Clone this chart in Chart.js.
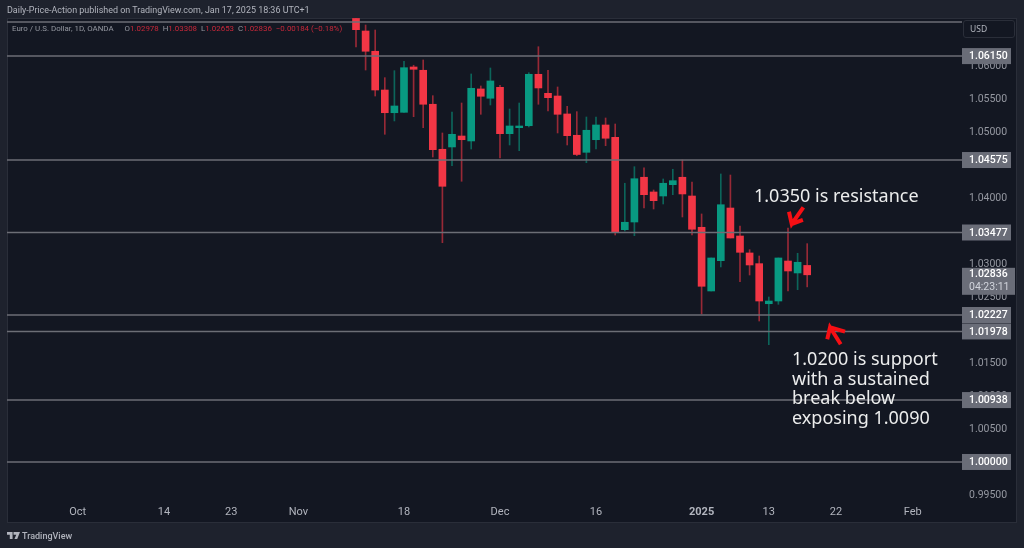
<!DOCTYPE html>
<html>
<head>
<meta charset="utf-8">
<title>EUR/USD</title>
<script src="https://cdn.jsdelivr.net/npm/chart.js@4/dist/chart.umd.min.js"></script>
<style>
  html, body { margin: 0; padding: 0; background: #1e222d; overflow: hidden; }
  body { width: 1024px; height: 548px; position: relative; font-family: "Noto Sans", sans-serif; }
  #frame { position: absolute; left: 7px; top: 18px; width: 1010px; height: 505px; box-sizing: border-box;
           background: #131722; border: 1px solid #2a2e39; }
  canvas { position: absolute; left: 0; top: 0; }
  .txt { position: absolute; white-space: nowrap; }
  #published { left: 7px; top: 3px; font-family: Roboto; font-size: 8.95px; line-height: 14px; color: #b2b5be; }
  #legend { left: 12px; top: 22px; font-family: Roboto; font-size: 7.9px; line-height: 13px; color: #9598a1; }
  #legend b { font-weight: normal; color: #c9283a; }
  #legend span { margin-left: 4px; }
  #legend span:first-child { margin-left: 11px; }
  #usd { left: 963px; top: 20px; width: 52px; height: 18px; box-sizing: border-box; border: 1px solid #2a2e39;
         border-radius: 3px; font-size: 8.5px; line-height: 16px; color: #b2b5be; padding-left: 6px; }
  .note { color: #eceded; font-size: 18px; line-height: 19.5px; }
  #brand { left: 22px; top: 529px; font-family: Roboto; font-size: 9px; line-height: 14px; color: #b2b5be; font-weight: 500; }
  #logo { position: absolute; left: 7px; top: 532px; }
</style>
</head>
<body>
<div id="frame"></div>
<canvas id="chart" width="1024" height="548"></canvas>
<div class="txt" id="published">Daily-Price-Action published on TradingView.com, Jan 17, 2025 18:36 UTC+1</div>
<div class="txt" id="legend">Euro / U.S. Dollar, 1D, OANDA<span>O<b>1.02978</b></span><span>H<b>1.03308</b></span><span>L<b>1.02653</b></span><span>C<b>1.02836</b></span><span><b>−0.00184 (−0.18%)</b></span></div>
<div class="txt" id="usd">USD</div>
<div class="txt note" style="left:754px;top:186px">1.0350 is resistance</div>
<div class="txt note" style="left:792px;top:349px">1.0200 is support<br>with a sustained<br>break below<br>exposing 1.0090</div>
<svg id="logo" width="13" height="7" viewBox="0 0 14 8" preserveAspectRatio="none"><path fill="#b2b5be" d="M0 0h6v8H3V3H0zM7 0h7l-3 8H8l2-5H7z"/></svg>
<div class="txt" id="brand">TradingView</div>

<script>
// daily candles, one per trading day starting Nov 11 2024
const opens = [1.0672,1.0653,1.06223,1.05636,1.05292,1.05298,1.05985,1.05935,1.0542,1.04738,1.04773,1.04939,1.04864,1.05652,1.05511,1.05677,1.04974,1.05065,1.05095,1.05874,1.05586,1.05545,1.05273,1.0495,1.04692,1.04883,1.05106,1.0492,1.0352,1.03636,1.04314,1.04091,1.0403,1.04202,1.04314,1.0403,1.03556,1.02591,1.0305,1.03848,1.03424,1.03167,1.03005,1.02398,1.02439,1.03045,1.02864,1.02978];
const highs = [1.0674,1.06621,1.06545,1.05823,1.05929,1.06071,1.06011,1.06091,1.0555,1.04985,1.05303,1.05439,1.05879,1.05697,1.0597,1.05708,1.05348,1.05439,1.05898,1.06292,1.05935,1.05682,1.05389,1.05308,1.05227,1.05227,1.05212,1.05121,1.04223,1.04474,1.04455,1.04121,1.04288,1.04435,1.04576,1.04242,1.03758,1.03091,1.04364,1.04348,1.03576,1.03217,1.03121,1.025,1.03091,1.03545,1.03162,1.03308];
const lows = [1.0629,1.05939,1.05545,1.04965,1.05167,1.05298,1.05232,1.05065,1.04621,1.03323,1.04489,1.04253,1.04742,1.05268,1.05409,1.04606,1.04803,1.04717,1.05076,1.0542,1.05318,1.04985,1.04803,1.04641,1.04535,1.04742,1.04792,1.03439,1.035,1.03429,1.03848,1.03833,1.03909,1.0405,1.03712,1.03439,1.02242,1.02591,1.02955,1.03394,1.02732,1.02833,1.02136,1.01777,1.02389,1.02591,1.02611,1.02653];
const closes = [1.0655,1.06223,1.05636,1.05292,1.05394,1.05974,1.0595,1.0542,1.04732,1.04177,1.04965,1.04883,1.05662,1.05541,1.05773,1.04974,1.05091,1.05091,1.05874,1.05667,1.0552,1.05268,1.04944,1.04659,1.05026,1.05106,1.04905,1.03489,1.03632,1.04292,1.0405,1.03959,1.04223,1.04262,1.04061,1.03526,1.02662,1.03091,1.03898,1.03394,1.03177,1.02985,1.02439,1.02439,1.03091,1.02894,1.03026,1.02836];

// horizontal levels
const topLine = 1.06667;
const levels = [1.0615,1.04575,1.03477,1.02227,1.01978,1.00938,1.0];
const lastPrice = 1.02836;
const countdown = "04:23:11";

// price axis
const priceTicks = [0.995,1.0,1.005,1.01,1.015,1.02,1.025,1.03,1.035,1.04,1.045,1.05,1.055,1.06];

// time axis, positions are bar numbers
const timeTicks = [-29,-20,-13,-6,5,15,25,36,43,50,58];
const timeLabels = ["Oct","14","23","Nov","18","Dec","16","2025","13","22","Feb"];

// hand drawn arrows, [bar number, price]
const arrowUpper = [[46.6,1.03859],[45.39,1.03606],[45.1,1.03792],[45.39,1.03606],[46.55,1.03667]];
const arrowLower = [[50.49,1.01783],[49.38,1.02041],[49.09,1.01859],[49.38,1.02041],[50.94,1.01974]];

const xMin = -36.354, xMax = 63.125;
const yMin = 0.99424, yMax = 1.06727;

const RED = "#f23645", GREEN = "#089981";
const isDown = opens.map((o, i) => closes[i] < o);

function hline(price) {
    return {
        type: "line",
        data: [{x: xMin, y: price}, {x: xMax, y: price}],
        borderColor: "#6c6e76",
        borderWidth: 1.5,
        pointRadius: 0,
        order: 1
    };
}

function arrow(points) {
    return {
        type: "line",
        data: points.map(p => ({x: p[0], y: p[1]})),
        borderColor: "#f70f14",
        borderWidth: 4,
        pointRadius: 0,
        order: 0
    };
}

// price tags on the right axis
const priceTags = {
    id: "priceTags",
    afterDraw(chart) {
        const ctx = chart.ctx;
        const y = chart.scales.y;
        const left = chart.chartArea.right;
        ctx.save();
        ctx.textBaseline = "middle";
        ctx.textAlign = "left";
        ctx.font = "500 10.5px Roboto";
        levels.forEach(function(price) {
            const py = y.getPixelForValue(price);
            ctx.fillStyle = "#6a6d78";
            ctx.fillRect(left, py - 8, 49, 16);
            ctx.fillStyle = "#ffffff";
            ctx.fillText(price.toFixed(5), left + 7, py + 0.5);
        });
        const py = y.getPixelForValue(lastPrice);
        ctx.fillStyle = "#6a6d78";
        ctx.fillRect(left, py - 7, 53, 27);
        ctx.fillStyle = "#ffffff";
        ctx.fillText(lastPrice.toFixed(5), left + 7, py);
        ctx.fillStyle = "#d1d4dc";
        ctx.font = "10.5px Roboto";
        ctx.fillText(countdown, left + 7, py + 13);
        ctx.restore();
    }
};

new Chart(document.getElementById("chart"), {
    type: "bar",
    data: {
        datasets: [
            {
                data: opens.map((o, i) => ({x: i, y: [lows[i], highs[i]]})),
                backgroundColor: isDown.map(d => d ? "rgba(242,54,69,0.6)" : "rgba(8,153,129,0.6)"),
                barThickness: 1,
                order: 3
            },
            {
                data: opens.map((o, i) => ({x: i, y: [o, closes[i]]})),
                backgroundColor: isDown.map(d => d ? RED : GREEN),
                barThickness: 7,
                order: 2
            },
            hline(topLine),
            ...levels.map(hline),
            arrow(arrowUpper),
            arrow(arrowLower)
        ]
    },
    options: {
        responsive: false,
        animation: false,
        events: [],
        layout: { padding: { left: 7, top: 18, right: 7, bottom: 25 } },
        plugins: { legend: { display: false }, tooltip: { enabled: false } },
        datasets: { bar: { grouped: false } },
        scales: {
            x: {
                type: "linear",
                offset: false,
                min: xMin,
                max: xMax,
                grid: { display: false, drawTicks: false },
                border: { display: false },
                afterBuildTicks: scale => { scale.ticks = timeTicks.map(v => ({value: v})); },
                afterFit: scale => { scale.height = 23; },
                ticks: {
                    autoSkip: false,
                    maxRotation: 0,
                    padding: 6,
                    color: "#b2b5be",
                    font: c => ({ family: "Roboto", size: 11, weight: c.tick && c.tick.value === 36 ? "bold" : "normal" }),
                    callback: v => timeLabels[timeTicks.indexOf(v)]
                }
            },
            y: {
                position: "right",
                min: yMin,
                max: yMax,
                grid: { display: false, drawTicks: false },
                border: { display: false },
                afterBuildTicks: scale => { scale.ticks = priceTicks.map(v => ({value: v})); },
                afterFit: scale => { scale.width = 55; },
                ticks: {
                    autoSkip: false,
                    padding: 7,
                    color: "#9598a1",
                    font: { family: "Roboto", size: 10.5 },
                    callback: v => v.toFixed(5)
                }
            }
        }
    },
    plugins: [priceTags]
});
</script>
</body>
</html>
